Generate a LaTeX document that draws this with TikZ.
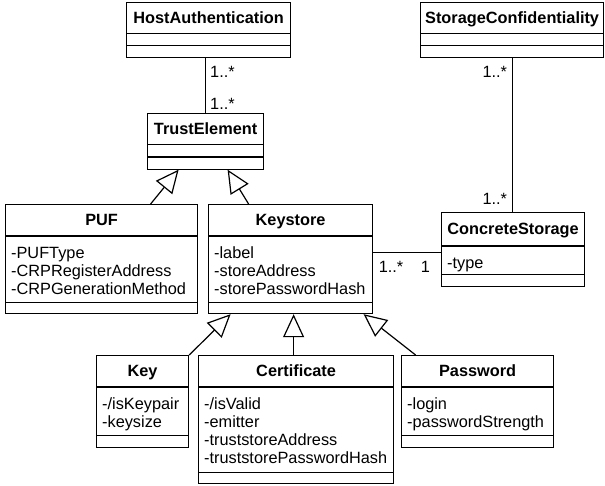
\documentclass[tikz,border=0pt]{standalone}
\usepackage{fontspec}
\setmainfont{Liberation Sans}
\usetikzlibrary{arrows.meta,calc}

\tikzset{
  classbox/.style={draw, line width=1.2pt, inner sep=0pt, anchor=north west},
  classname/.style={font=\fontsize{16.3}{18.3}\selectfont\bfseries, inner sep=0pt, anchor=base},
  classattr/.style={font=\fontsize{16.3}{18.3}\selectfont, inner sep=0pt, anchor=north west, align=left},
  mult/.style={font=\fontsize{16.3}{18.3}\selectfont, inner sep=0pt},
  assoc/.style={line width=1.2pt},
  inherit/.style={line width=1.2pt, -{Triangle[open, length=23pt, width=21pt]}},
}

% #1 name, #2 left, #3 top, #4 width, #5 height,
% #6 bottom of name part, #7 bottom of attribute part, #8 name, #9 attributes
\newcommand{\umlclass}[9]{%
  \node[classbox, minimum width=#4pt, minimum height=#5pt] (#1) at (#2,#3) {};
  \node[classname] (#1-name) at ([yshift=-#6pt/2-5.8pt]#1.north) {#8};
  \draw[line width=1.2pt] ([yshift=-#6pt]#1.north west) -- ([yshift=-#6pt]#1.north east);
  \draw[line width=1.2pt] ([yshift=-#7pt]#1.north west) -- ([yshift=-#7pt]#1.north east);
  \node[classattr] (#1-attr) at ([xshift=6pt,yshift=-#6pt-9pt]#1.north west) {\strut#9};
}

\begin{document}
\begin{tikzpicture}[x=1pt,y=-1pt]
    \useasboundingbox (0,0) rectangle (605,485);

    \umlclass{HostAuthentication}{126}{2}{164}{55}{31.5}{43.3}{HostAuthentication}{}
    \umlclass{StorageConfidentiality}{420}{2}{183}{55}{31.5}{43.3}{StorageConfidentiality}{}
    \umlclass{TrustElement}{147}{113}{116}{55.5}{31.3}{44}{TrustElement}{}
    \umlclass{PUF}{5}{204}{192}{109}{32}{98.3}{PUF}{-PUFType\\-CRPRegisterAddress\\-CRPGenerationMethod}
    \umlclass{Keystore}{208}{204}{164}{109}{32}{98.3}{Keystore}{-label\\-storeAddress\\-storePasswordHash}
    \umlclass{ConcreteStorage}{441}{212}{143}{74}{34}{62.3}{ConcreteStorage}{-type}
    \umlclass{Key}{96}{355}{92}{91.5}{32}{80.3}{Key}{-/isKeypair\\-keysize}
    \umlclass{Certificate}{198}{355}{195}{128}{32}{117.7}{Certificate}{-/isValid\\-emitter\\-truststoreAddress\\-truststorePasswordHash}
    \umlclass{Password}{401}{355}{152}{91.5}{32}{80.3}{Password}{-login\\-passwordStrength}

    % associations
    \draw[assoc] (TrustElement.north |- HostAuthentication.south) -- (TrustElement.north)
      node[mult, pos=0, anchor=base west, xshift=4pt, yshift=-19pt] (ha-mult) {1..*}
      node[mult, pos=1, anchor=base west, xshift=4pt, yshift=3.7pt] (te-mult) {1..*};
    \draw[assoc] (StorageConfidentiality.south) -- (StorageConfidentiality.south |- ConcreteStorage.north)
      node[mult, pos=0, anchor=base east, xshift=-4.5pt, yshift=-19pt] (sc-mult) {1..*}
      node[mult, pos=1, anchor=base east, xshift=-4.5pt, yshift=8pt] (cs-mult) {1..*};
    \draw[assoc] ([yshift=6.8pt]Keystore.east) -- ([yshift=6.8pt]Keystore.east -| ConcreteStorage.west)
      node[mult, pos=0, anchor=base west, xshift=5pt, yshift=-20pt] (ks-mult) {1..*}
      node[mult, pos=1, anchor=base east, xshift=-10.5pt, yshift=-20pt] (st-mult) {1};

    % generalisations
    \draw[inherit] ([xshift=49pt]PUF.north) -- ([xshift=-27pt]TrustElement.south);
    \draw[inherit] ([xshift=-42pt]Keystore.north) -- ([xshift=22pt]TrustElement.south);
    \draw[inherit] (Key.north east) -- ([xshift=-60pt]Keystore.south);
    \draw[inherit] ([xshift=-2.5pt]Certificate.north) -- ([xshift=-2.5pt]Certificate.north |- Keystore.south);
    \draw[inherit] ([xshift=-62pt]Password.north) -- ([xshift=73pt]Keystore.south);
\end{tikzpicture}
\end{document}
